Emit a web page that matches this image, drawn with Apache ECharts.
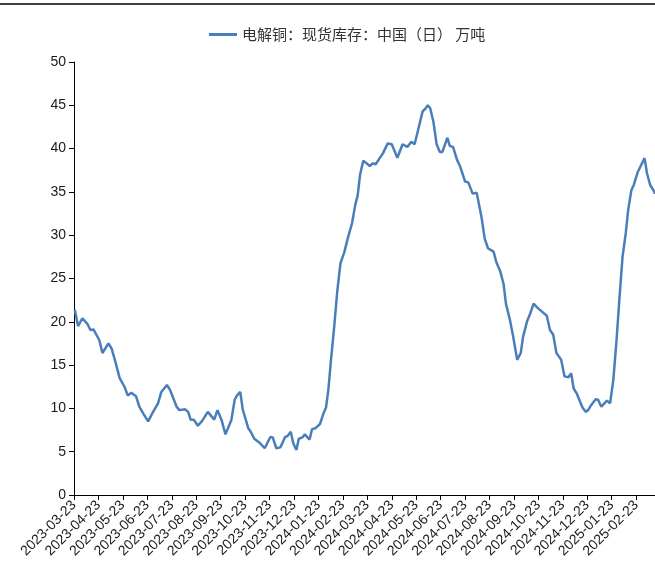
<!DOCTYPE html>
<html>
<head>
<meta charset="utf-8">
<script src="https://cdn.jsdelivr.net/npm/echarts@6/dist/echarts.min.js"></script>
<style>
html,body{margin:0;padding:0;background:#fff;}
#chart{width:655px;height:585px;}
</style>
</head>
<body>
<div id="chart"></div>
<script>
const seriesName = '电解铜：现货库存：中国（日） 万吨';

const tickLabels = [
  '2023-03-23','2023-04-23','2023-05-23','2023-06-23','2023-07-23','2023-08-23',
  '2023-09-23','2023-10-23','2023-11-23','2023-12-23','2024-01-23','2024-02-23',
  '2024-03-23','2024-04-23','2024-05-23','2024-06-23','2024-07-23','2024-08-23',
  '2024-09-23','2024-10-23','2024-11-23','2024-12-23','2025-01-23','2025-02-23'
];

const dates = [
  '2023-03-24','2023-03-28','2023-04-03','2023-04-09','2023-04-13','2023-04-17',
  '2023-04-24','2023-04-28','2023-05-05','2023-05-09','2023-05-13','2023-05-19',
  '2023-05-25','2023-05-29','2023-06-03','2023-06-09','2023-06-13','2023-06-18',
  '2023-06-24','2023-06-29','2023-07-06','2023-07-10','2023-07-17','2023-07-21',
  '2023-07-29','2023-08-02','2023-08-09','2023-08-13','2023-08-16','2023-08-20',
  '2023-08-25','2023-08-30','2023-09-01','2023-09-07','2023-09-15','2023-09-19',
  '2023-09-24','2023-09-29','2023-10-06','2023-10-10','2023-10-13','2023-10-17',
  '2023-10-20','2023-10-27','2023-10-30','2023-11-04','2023-11-11','2023-11-17',
  '2023-11-24','2023-11-27','2023-12-01','2023-12-06','2023-12-12','2023-12-15',
  '2023-12-19','2023-12-22','2023-12-26','2023-12-29','2024-01-03','2024-01-06',
  '2024-01-12','2024-01-15','2024-01-19','2024-01-25','2024-01-29','2024-02-02',
  '2024-02-05','2024-02-08','2024-02-12','2024-02-16','2024-02-20','2024-02-25',
  '2024-02-29','2024-03-04','2024-03-08','2024-03-11','2024-03-14','2024-03-18',
  '2024-03-22','2024-03-26','2024-03-30','2024-04-03','2024-04-08','2024-04-12',
  '2024-04-18','2024-04-23','2024-04-30','2024-05-06','2024-05-12','2024-05-17',
  '2024-05-21','2024-05-25','2024-05-31','2024-06-04','2024-06-07','2024-06-10',
  '2024-06-14','2024-06-18','2024-06-22','2024-06-25','2024-07-01','2024-07-04',
  '2024-07-08','2024-07-13','2024-07-17','2024-07-23','2024-07-27','2024-08-02',
  '2024-08-07','2024-08-13','2024-08-17','2024-08-21','2024-08-28','2024-09-01',
  '2024-09-06','2024-09-10','2024-09-13','2024-09-18','2024-09-22','2024-09-27',
  '2024-10-01','2024-10-04','2024-10-09','2024-10-13','2024-10-17','2024-10-21',
  '2024-10-23','2024-10-27','2024-11-03','2024-11-07','2024-11-11','2024-11-15',
  '2024-11-21','2024-11-25','2024-11-30','2024-12-03','2024-12-06','2024-12-10',
  '2024-12-17','2024-12-21','2024-12-24','2024-12-28','2025-01-03','2025-01-06',
  '2025-01-10','2025-01-17','2025-01-21','2025-01-25','2025-01-29','2025-02-02',
  '2025-02-06','2025-02-10','2025-02-13','2025-02-17','2025-02-20','2025-02-25',
  '2025-03-03','2025-03-06','2025-03-10','2025-03-14','2025-03-16'
];

const stock = [
  21.4,19.5,20.4,19.8,19.05,19.1,
  17.9,16.4,17.5,16.9,15.6,13.5,
  12.5,11.5,11.8,11.4,10.2,9.4,
  8.5,9.4,10.6,11.9,12.7,12.1,
  10.2,9.8,9.9,9.6,8.7,8.7,
  8.0,8.5,8.35,9.6,8.7,9.8,
  8.7,7.0,8.7,11.0,11.5,11.9,
  9.9,7.7,7.3,6.5,6.0,5.4,
  6.7,6.65,5.4,5.5,6.7,6.8,
  7.3,6.0,5.2,6.5,6.65,7.0,
  6.4,7.6,7.7,8.2,9.35,10.1,
  12.2,15.4,19.2,23.5,26.75,28.1,
  29.6,31.4,33.5,34.6,37.0,38.6,
  38.3,38.0,38.3,38.2,38.9,39.45,
  40.6,40.5,38.95,40.5,40.2,40.8,
  40.5,42.0,44.3,44.6,45.0,44.65,
  43.1,40.5,39.6,39.6,41.25,40.3,
  40.2,38.7,37.9,36.2,36.1,34.8,
  34.9,32.1,29.6,28.5,28.1,26.9,
  25.8,24.4,22.1,20.2,18.3,15.6,
  16.4,18.3,20.1,21.0,22.1,21.7,
  21.8,21.2,20.7,19.05,18.5,16.4,
  15.6,13.7,13.6,14.05,12.3,11.7,
  10.1,9.6,9.8,10.4,11.05,11.0,
  10.2,10.9,10.6,13.3,17.9,22.5,
  27.5,30.2,32.9,35.2,35.8,37.3,
  38.9,37.15,35.8,35.2,34.8
];

// position of a date on the axis, in months counted from 2023-03-23
function monthPos(s) {
  const p = s.split('-').map(Number);
  return (p[0] - 2023) * 12 + (p[1] - 3) + (p[2] - 23) / 30.44;
}

const points = dates.map((d, i) => [monthPos(d), stock[i]]);
const tickIdx = tickLabels.map((_, i) => i);
const xMax = monthPos(dates[dates.length - 1]);

const chart = echarts.init(document.getElementById('chart'), null, {renderer: 'canvas'});
const textColor = '#1a1a1a';
const fontFam = '"Liberation Sans", Arial, sans-serif';
const lineColor = '#4A7EBB';

chart.setOption({
  backgroundColor: '#ffffff',
  animation: false,
  graphic: [{
    type: 'rect',
    left: 0, top: 3,
    shape: {width: 655, height: 2},
    style: {fill: '#404040'}
  }],
  legend: {
    show: true,
    left: 204,
    top: 22,
    itemWidth: 28,
    itemHeight: 3,
    itemGap: 4,
    textStyle: {
      fontFamily: '"Noto Sans CJK SC", sans-serif',
      fontSize: 15,
      color: '#333'
    },
    data: [{name: seriesName, icon: 'rect'}]
  },
  grid: {left: 74, right: 0, top: 62, bottom: 90},
  xAxis: {
    type: 'value',
    min: 0,
    max: xMax,
    interval: 1,
    splitLine: {show: false},
    axisLine: {show: true, lineStyle: {color: '#000', width: 1}},
    axisTick: {show: true, length: 5, lineStyle: {color: '#000'}, customValues: tickIdx},
    axisLabel: {
      customValues: tickIdx,
      rotate: 45,
      margin: 8,
      fontSize: 14,
      fontFamily: fontFam,
      color: textColor,
      formatter: function (v) {
        const k = Math.round(v);
        return Math.abs(v - k) < 1e-6 && tickLabels[k] ? tickLabels[k] : '';
      }
    }
  },
  yAxis: {
    type: 'value',
    min: 0,
    max: 50,
    interval: 5,
    splitLine: {show: false},
    axisLine: {show: true, lineStyle: {color: '#000', width: 1}},
    axisTick: {show: true, length: 5, lineStyle: {color: '#000'}},
    axisLabel: {
      margin: 8,
      fontSize: 14,
      fontFamily: fontFam,
      color: textColor
    }
  },
  series: [{
    name: seriesName,
    type: 'line',
    data: points,
    symbol: 'none',
    showSymbol: false,
    clip: true,
    lineStyle: {color: lineColor, width: 2.5},
    itemStyle: {color: lineColor}
  }]
});
</script>
</body>
</html>
